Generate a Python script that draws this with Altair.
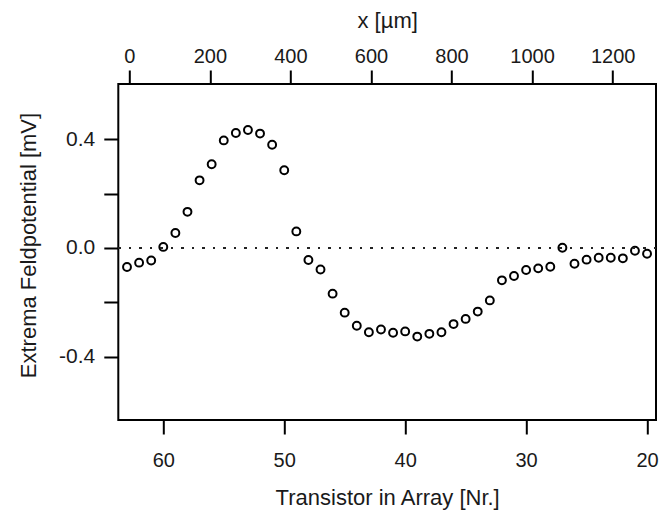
import altair as alt
import pandas as pd

# Transistor number (bottom axis) and measured extrema (mV)
transistor = list(range(63, 19, -1))
extrema = [
    -0.070, -0.054, -0.046, 0.004, 0.055, 0.133, 0.249, 0.308, 0.396, 0.423,
    0.434, 0.421, 0.380, 0.286, 0.061, -0.044, -0.079, -0.168, -0.238, -0.286,
    -0.310, -0.300, -0.312, -0.307, -0.326, -0.316, -0.310, -0.280, -0.261, -0.234,
    -0.193, -0.119, -0.103, -0.081, -0.075, -0.069, 0.001, -0.058, -0.043, -0.036,
    -0.036, -0.038, -0.010, -0.021,
]
pitch_um = 30.0          # transistor pitch
origin_nr = 62.81        # transistor number at x = 0 µm
position_um = [(origin_nr - n) * pitch_um for n in transistor]

bottom_ticks = [60, 50, 40, 30, 20]
top_ticks = [0, 200, 400, 600, 800, 1000, 1200]
y_ticks = [-0.4, -0.2, 0.0, 0.2, 0.4]

df = pd.DataFrame({"nr": transistor, "val": extrema, "um": position_um})

W, H = 537.7, 336
TXT = "#1a1a1a"
FONT = "Liberation Sans"
Y_SCALE = alt.Scale(domain=[-0.633, 0.6035], nice=False, zero=False)

y_axis = alt.Axis(
    values=y_ticks,
    labelExpr="abs(datum.value - 0.4) < 0.01 ? '0.4' : abs(datum.value) < 0.01 ? '0.0' : abs(datum.value + 0.4) < 0.01 ? '-0.4' : ''",
    title="Extrema Feldpotential [mV]",
    titleFontSize=22, titleFontWeight="normal", titleFont=FONT, titleColor=TXT,
    titleBaseline="alphabetic", titleX=-83, titleY=161, titleAngle=-90,
    labelFontSize=21, labelFont=FONT, labelColor=TXT, labelPadding=9,
    tickSize=14.5, tickWidth=2, tickColor="black",
    domain=False, grid=False,
)

points = alt.Chart(df).mark_point(
    shape="circle", filled=False, size=62, strokeWidth=2, color="black", opacity=1
).encode(
    x=alt.X(
        "nr:Q",
        scale=alt.Scale(domain=[63.72, 19.26], nice=False, zero=False),
        axis=alt.Axis(
            orient="bottom", values=bottom_ticks, format="d",
            title="Transistor in Array [Nr.]",
            titleFontSize=22, titleFontWeight="normal", titleFont=FONT, titleColor=TXT,
            titleBaseline="alphabetic", titleY=84,
            labelFontSize=20, labelFont=FONT, labelColor=TXT, labelPadding=16,
            tickSize=14, tickWidth=2, tickColor="black",
            domain=False, grid=False,
        ),
    ),
    y=alt.Y("val:Q", scale=Y_SCALE, axis=y_axis),
)

zero_line = alt.Chart(df).mark_rule(
    strokeDash=[2, 8.5], strokeWidth=2, color="#222"
).encode(y=alt.datum(0, type="quantitative"))

top = alt.Chart(df).mark_point(opacity=0).encode(
    x=alt.X(
        "um:Q",
        scale=alt.Scale(domain=[-27.3, 1307.6], nice=False, zero=False),
        axis=alt.Axis(
            orient="top", values=top_ticks, format="d",
            title="x [µm]",
            titleFontSize=22, titleFontWeight="normal", titleFont=FONT, titleColor=TXT,
            titleBaseline="alphabetic", titleY=-57,
            labelFontSize=20, labelFont=FONT, labelColor=TXT, labelPadding=8,
            labelBaseline="alphabetic",
            tickSize=14, tickWidth=2, tickColor="black",
            domain=False, grid=False,
        ),
    ),
    y=alt.Y("val:Q", scale=Y_SCALE),
)

chart = (
    alt.layer(points, zero_line, top)
    .resolve_scale(x="independent")
    .properties(
        width=W, height=H,
        autosize=alt.AutoSizeParams(type="none"),
        padding={"left": 118.3, "top": 84, "right": 5, "bottom": 92},
        background="white",
    )
    .configure_view(stroke="black", strokeWidth=2)
)

chart.save("out.html", embed_options={"renderer": "svg", "actions": False})
